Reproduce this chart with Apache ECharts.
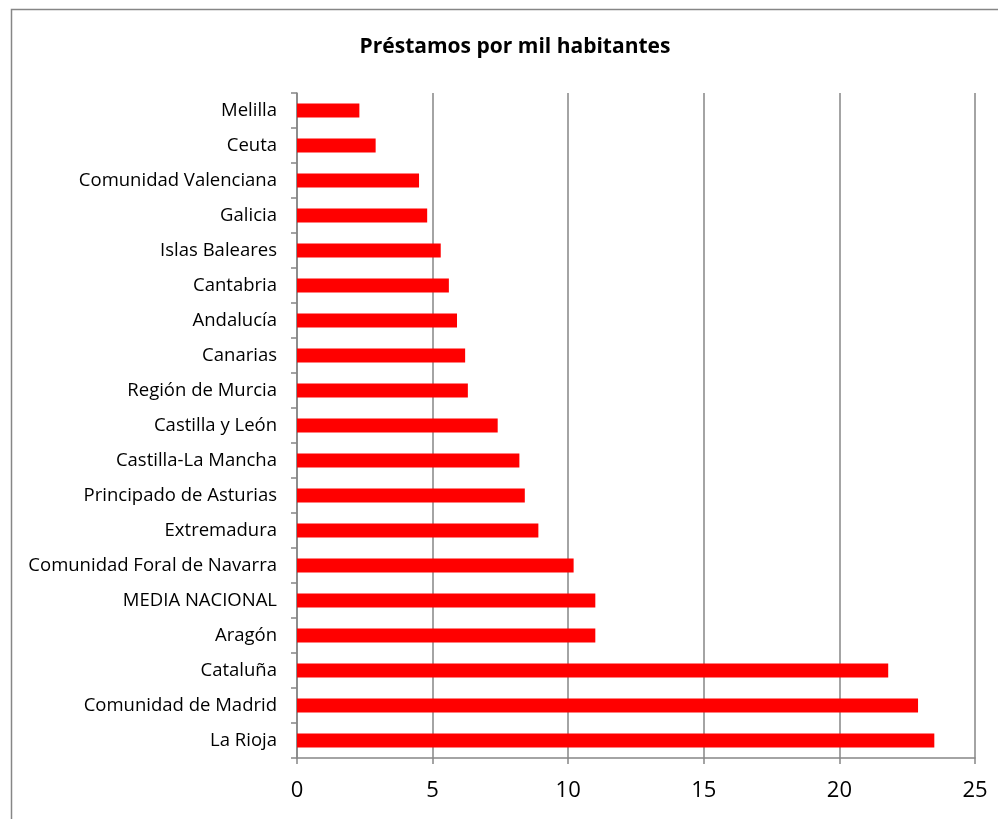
<!DOCTYPE html>
<html>
<head>
<meta charset="utf-8">
<script src="https://cdn.jsdelivr.net/npm/echarts@6/dist/echarts.min.js"></script>
<style>
  html, body { margin: 0; padding: 0; background: #fff; }
  #main { width: 998px; height: 819px; }
</style>
</head>
<body>
<div id="main"></div>
<script>
// comunidades, de arriba abajo
var regiones = ['Melilla', 'Ceuta', 'Comunidad Valenciana', 'Galicia', 'Islas Baleares',
  'Cantabria', 'Andalucía', 'Canarias', 'Región de Murcia', 'Castilla y León',
  'Castilla-La Mancha', 'Principado de Asturias', 'Extremadura', 'Comunidad Foral de Navarra',
  'MEDIA NACIONAL', 'Aragón', 'Cataluña', 'Comunidad de Madrid', 'La Rioja'];
var prestamos = [2.3, 2.9, 4.5, 4.8, 5.3, 5.6, 5.9, 6.2, 6.3, 7.4,
  8.2, 8.4, 8.9, 10.2, 11.0, 11.0, 21.8, 22.9, 23.5];
var titulo = 'Préstamos por mil habitantes';

var myChart = echarts.init(document.getElementById('main'));
var option = {
  animation: false,
  title: {
    text: titulo,
    left: 510,
    textAlign: 'center',
    top: 32,
    textStyle: {
      fontFamily: 'Open Sans',
      fontSize: 21,
      fontWeight: 'bold',
      color: '#000'
    }
  },
  // marco del gráfico
  graphic: [{
    type: 'rect',
    shape: { x: 11.5, y: 9.5, width: 1100, height: 1100 },
    style: { fill: 'none', stroke: '#868686', lineWidth: 1.5 },
    silent: true
  }],
  grid: {
    left: 297,
    right: 23,
    top: 93,
    bottom: 61
  },
  xAxis: {
    type: 'value',
    min: 0,
    max: 25,
    interval: 5,
    axisLine: { show: true, lineStyle: { color: '#868686', width: 1.5 } },
    axisTick: { show: true, length: 6, lineStyle: { color: '#868686', width: 1.5 } },
    axisLabel: {
      color: '#000',
      fontFamily: 'Open Sans',
      fontSize: 22,
      margin: 22
    },
    splitLine: { show: true, lineStyle: { color: '#868686', width: 1.5 } }
  },
  yAxis: {
    type: 'category',
    data: regiones,
    inverse: true,
    axisLine: { show: true, lineStyle: { color: '#868686', width: 1.5 } },
    axisTick: { show: true, length: 6, lineStyle: { color: '#868686', width: 1.5 } },
    axisLabel: {
      color: '#000',
      fontFamily: 'Open Sans',
      fontSize: 18.5,
      margin: 20
    },
    splitLine: { show: false }
  },
  series: [{
    type: 'bar',
    data: prestamos,
    barWidth: 14,
    itemStyle: { color: '#ff0000' }
  }]
};
myChart.setOption(option);
</script>
</body>
</html>
